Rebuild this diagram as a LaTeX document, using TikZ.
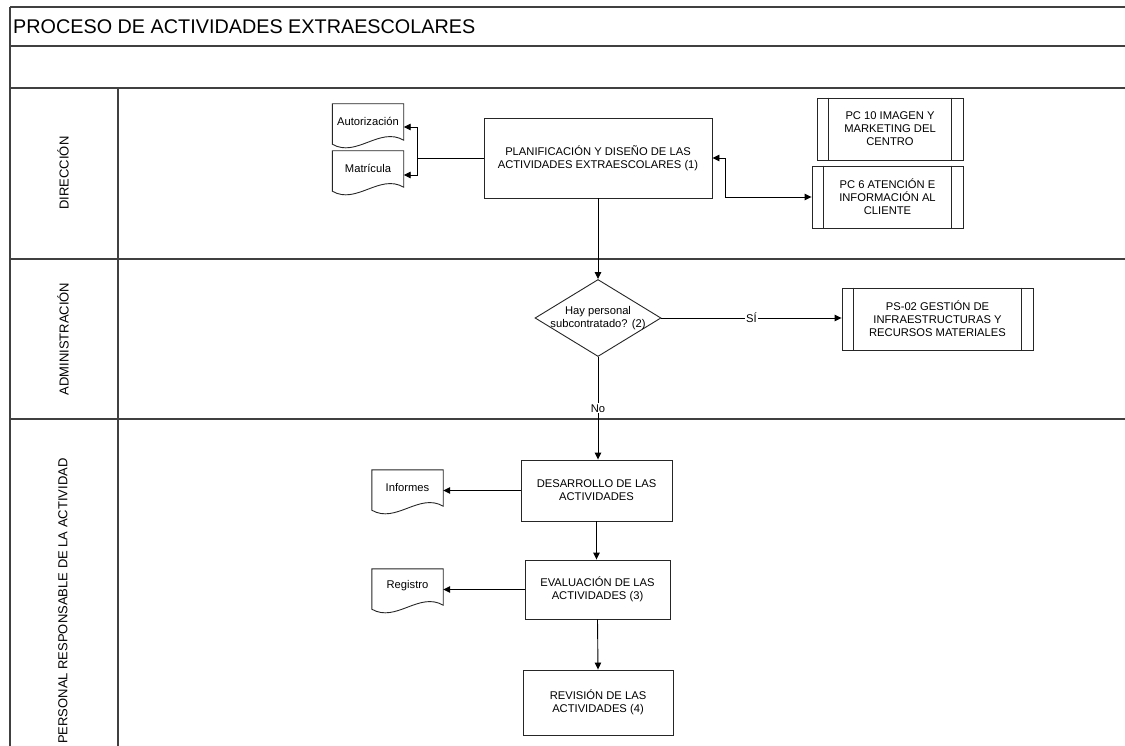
\documentclass[tikz,border=0pt]{standalone}
\usepackage{fontspec}
\setmainfont{Liberation Sans}
\usetikzlibrary{arrows.meta,shapes.geometric,calc}
\newcommand{\docoutline}[1]{%
  \draw[docline] (#1.south west) -- (#1.north west) -- (#1.north east) -- ($(#1.south east)+(0,2)$)
    .. controls ($(#1.south east)+(-24,-12)$) and ($(#1.south west)+(24,20)$) .. ($(#1.south west)+(0,6)$) -- cycle;}
\newcommand{\subbars}[1]{%
  \draw[boxline] ([xshift=12pt]#1.north west) -- ([xshift=12pt]#1.south west)
                 ([xshift=-12pt]#1.north east) -- ([xshift=-12pt]#1.south east);}
\begin{document}
\begin{tikzpicture}[x=1pt,y=-1pt,
  every node/.style={font=\fontsize{11.2}{13}\selectfont},
  boxline/.style={line width=0.9pt, draw=black!85},
  docline/.style={line width=0.9pt, draw=black!85},
  laneline/.style={line width=1.4pt, draw=black!75},
  lanetext/.style={rotate=90, font=\fontsize{13}{15}\selectfont},
  proc/.style={draw, boxline, align=center, inner sep=2pt},
  subproc/.style={draw, boxline, align=center, inner sep=2pt},
  docnode/.style={align=center, inner sep=0pt, minimum width=71pt, minimum height=34pt},
  decision/.style={diamond, draw, boxline, inner sep=0pt, minimum width=126pt, minimum height=77pt},
  arr/.style={line width=0.9pt, -{Triangle[length=7pt,width=6.5pt]}},
  lbl/.style={fill=white, inner sep=1pt}]
\useasboundingbox (0,0) rectangle (1125,746);
\fill[white] (0,0) rectangle (1125,746);

% frame and lanes
\draw[laneline] (10,7) -- (1125,7);
\draw[laneline] (10,46) -- (1125,46);
\draw[laneline] (10,88) -- (1125,88);
\draw[laneline] (10,259) -- (1125,259);
\draw[laneline] (10,419) -- (1125,419);
\draw[laneline] (10,7) -- (10,746);
\draw[laneline] (118,88) -- (118,746);
\node[anchor=west, inner sep=0pt, font=\fontsize{19.8}{23}\selectfont] (title) at (13,27) {PROCESO DE ACTIVIDADES EXTRAESCOLARES};
\node[lanetext] (lane1) at (63,173) {DIRECCIÓN};
\node[lanetext] (lane2) at (63,339) {ADMINISTRACIÓN};
\node[lanetext, anchor=west, inner sep=0pt] (lane3) at (63,744) {PERSONAL RESPONSABLE DE LA ACTIVIDAD};

% nodes
\node[proc, minimum width=228pt, minimum height=80pt] (plan) at (598,158) {PLANIFICACIÓN Y DISEÑO DE LAS\\ACTIVIDADES EXTRAESCOLARES (1)};
\node[docnode] (aut) at (368,121) {Autorización};
\docoutline{aut}
\node[docnode] (mat) at (368,168) {Matrícula};
\docoutline{mat}
\node[subproc, minimum width=146pt, minimum height=62pt] (pc10) at (890,129) {PC 10 IMAGEN Y\\MARKETING DEL\\CENTRO};
\subbars{pc10}
\node[subproc, minimum width=151pt, minimum height=62pt] (pc6) at (887.5,197) {PC 6 ATENCIÓN E\\INFORMACIÓN AL\\CLIENTE};
\subbars{pc6}
\node[decision] (dec) at (598,318) {};
\node[align=center, inner sep=0pt] (dectext) at (dec.center) {Hay personal\\subcontratado? (2)};
\node[subproc, minimum width=191pt, minimum height=62pt] (ps02) at (937.5,319) {PS-02 GESTIÓN DE\\INFRAESTRUCTURAS Y\\RECURSOS MATERIALES};
\subbars{ps02}
\node[proc, minimum width=151pt, minimum height=61pt] (des) at (596.5,490.5) {DESARROLLO DE LAS\\ACTIVIDADES};
\node[docnode] (inf) at (407.5,487) {Informes};
\docoutline{inf}
\node[proc, minimum width=145pt, minimum height=59pt] (eval) at (597.5,589.5) {EVALUACIÓN DE LAS\\ACTIVIDADES (3)};
\node[docnode] (reg) at (407.5,586) {Registro};
\docoutline{reg}
\node[proc, minimum width=150pt, minimum height=65pt] (rev) at (598,702.5) {REVISIÓN DE LAS\\ACTIVIDADES (4)};

% connectors
\draw[line width=0.9pt] (plan.west) -- ++(-66,0) coordinate (jn);
\draw[arr] (jn) |- ([yshift=-6pt]aut.east);
\draw[arr] (jn) |- ([yshift=-7pt]mat.east);
\draw[arr, {Triangle[length=7pt,width=6.5pt]}-{Triangle[length=7pt,width=6.5pt]}] (plan.east) -- ++(13,0) |- (pc6.west);
\draw[arr] (plan.south) -- (dec.north);
\draw[arr] (dec.east) -- node[lbl] (si) {SÍ} (dec.east -| ps02.west);
\draw[arr] (dec.south) -- node[lbl] (no) {No} (des.north -| dec.south);
\draw[arr] (des.west) -- (des.west -| inf.east);
\draw[arr] (des.south) -- (des.south |- eval.north);
\draw[arr] (eval.west) -- (eval.west -| reg.east);
\draw[arr] (eval.south) -- (rev.north);
\end{tikzpicture}
\end{document}
